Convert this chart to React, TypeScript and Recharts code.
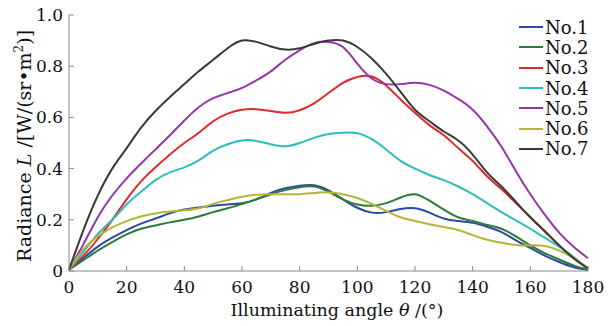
import React from 'react';
import { LineChart, Line, XAxis, YAxis, Legend } from 'recharts';

const angles = [0, 5, 10, 15, 20, 25, 30, 35, 40, 45, 50, 55, 60, 65, 70, 75, 80, 85, 90, 95, 100, 105, 110, 115, 120, 125, 130, 135, 140, 145, 150, 155, 160, 165, 170, 175, 180];

const no1 = [0.005, 0.05, 0.095, 0.13, 0.16, 0.185, 0.205, 0.225, 0.24, 0.248, 0.255, 0.26, 0.265, 0.28, 0.305, 0.323, 0.333, 0.335, 0.315, 0.28, 0.247, 0.228, 0.23, 0.242, 0.245, 0.228, 0.205, 0.195, 0.188, 0.173, 0.152, 0.12, 0.09, 0.06, 0.035, 0.015, 0.005];
const no2 = [0.005, 0.042, 0.08, 0.113, 0.143, 0.165, 0.178, 0.19, 0.2, 0.213, 0.23, 0.245, 0.262, 0.28, 0.3, 0.316, 0.327, 0.33, 0.31, 0.28, 0.26, 0.255, 0.265, 0.287, 0.3, 0.275, 0.24, 0.21, 0.195, 0.18, 0.165, 0.135, 0.1, 0.07, 0.045, 0.022, 0.005];
const no3 = [0.005, 0.06, 0.125, 0.2, 0.28, 0.35, 0.405, 0.455, 0.5, 0.54, 0.585, 0.615, 0.63, 0.632, 0.625, 0.618, 0.628, 0.655, 0.695, 0.735, 0.758, 0.76, 0.725, 0.67, 0.618, 0.57, 0.53, 0.48, 0.43, 0.37, 0.32, 0.265, 0.21, 0.155, 0.1, 0.05, 0.01];
const no4 = [0.005, 0.075, 0.145, 0.2, 0.26, 0.31, 0.355, 0.385, 0.405, 0.432, 0.47, 0.495, 0.51, 0.508, 0.495, 0.487, 0.5, 0.52, 0.535, 0.54, 0.538, 0.515, 0.475, 0.43, 0.4, 0.375, 0.355, 0.33, 0.3, 0.265, 0.23, 0.198, 0.165, 0.13, 0.095, 0.055, 0.01];
const no5 = [0.005, 0.105, 0.21, 0.295, 0.362, 0.42, 0.475, 0.53, 0.588, 0.64, 0.675, 0.695, 0.715, 0.745, 0.78, 0.825, 0.862, 0.89, 0.895, 0.875, 0.81, 0.752, 0.73, 0.73, 0.735, 0.727, 0.705, 0.672, 0.63, 0.565, 0.485, 0.39, 0.3, 0.22, 0.15, 0.095, 0.05];
const no6 = [0.005, 0.085, 0.135, 0.17, 0.195, 0.213, 0.225, 0.232, 0.237, 0.245, 0.262, 0.277, 0.29, 0.298, 0.3, 0.3, 0.3, 0.305, 0.307, 0.3, 0.285, 0.262, 0.235, 0.21, 0.195, 0.183, 0.172, 0.16, 0.14, 0.122, 0.11, 0.102, 0.1, 0.098, 0.08, 0.05, 0.01];
const no7 = [0.005, 0.16, 0.295, 0.4, 0.48, 0.56, 0.625, 0.68, 0.73, 0.78, 0.825, 0.87, 0.9, 0.895, 0.877, 0.865, 0.87, 0.887, 0.9, 0.9, 0.875, 0.83, 0.77, 0.7, 0.63, 0.585, 0.545, 0.51, 0.455, 0.385, 0.33, 0.27, 0.21, 0.155, 0.1, 0.05, 0.01];

const seriesNames = ['No.1', 'No.2', 'No.3', 'No.4', 'No.5', 'No.6', 'No.7'];
const seriesValues = [no1, no2, no3, no4, no5, no6, no7];
const seriesColors = ['#2b4ba3', '#2f7a35', '#dd2a2a', '#2ebdba', '#9436a8', '#b5b535', '#3a3a3a'];

const xTicks = [0, 20, 40, 60, 80, 100, 120, 140, 160, 180];
const yTicks = [0, 0.2, 0.4, 0.6, 0.8, 1.0];

const data = angles.map((a, i) => {
  const row: Record<string, number> = { angle: a };
  seriesNames.forEach((n, k) => {
    row[n] = seriesValues[k][i];
  });
  return row;
});

const FONT = '"DejaVu Serif", "Liberation Serif", serif';
const AXIS = '#8a8a8a';

const fmtY = (v: number) => (v === 0 ? '0' : v.toFixed(1));

const LegendContent = (props: any) => {
  const payload = props.payload || [];
  return (
    <div style={{ fontFamily: FONT, fontSize: 18, color: '#111' }}>
      {payload.map((p: any) => (
        <div key={p.value} style={{ display: 'flex', alignItems: 'center', height: 20.3 }}>
          <svg width={24} height={4} style={{ marginRight: 2 }}>
            <line x1={0} y1={2} x2={24} y2={2} stroke={p.color} strokeWidth={2} />
          </svg>
          <span>{p.value}</span>
        </div>
      ))}
    </div>
  );
};

const XLabel = () => (
  <text x={337} y={316} textAnchor="middle" fontFamily={FONT} fontSize={17.5} fill="#111">
    Illuminating angle <tspan fontStyle="italic">θ</tspan> /(°)
  </text>
);

const YLabel = () => (
  <text transform="translate(31,146) rotate(-90)" textAnchor="middle" fontFamily={FONT} fontSize={19} fill="#111">
    Radiance <tspan fontStyle="italic">L</tspan> /[W/(sr•m<tspan dy={-8} fontSize={12}>2</tspan><tspan dy={8}>)]</tspan>
  </text>
);

export default function App() {
  return (
    <div style={{ position: 'absolute', left: 0, top: 0, width: 614, height: 326, background: '#fff' }}>
      <LineChart width={614} height={326} data={data} margin={{ top: 15, right: 26, bottom: 25, left: 0 }}>
        <XAxis
          xAxisId="b"
          dataKey="angle"
          type="number"
          domain={[0, 180]}
          ticks={xTicks}
          height={30}
          stroke={AXIS}
          tickSize={-5}
          tickMargin={15}
          tick={{ fill: '#111', fontFamily: FONT, fontSize: 17 }}
          label={<XLabel />}
        />
        <XAxis
          xAxisId="t"
          orientation="top"
          dataKey="angle"
          type="number"
          domain={[0, 180]}
          ticks={xTicks}
          height={0}
          stroke={AXIS}
          tickSize={-5}
          tickFormatter={() => ''}
        />
        <YAxis
          yAxisId="l"
          type="number"
          domain={[0, 1]}
          ticks={yTicks}
          width={69}
          stroke={AXIS}
          tickSize={-5}
          tickMargin={11}
          tickFormatter={fmtY}
          tick={{ fill: '#111', fontFamily: FONT, fontSize: 17 }}
          label={<YLabel />}
        />
        <YAxis
          yAxisId="r"
          orientation="right"
          type="number"
          domain={[0, 1]}
          ticks={yTicks}
          width={0}
          stroke={AXIS}
          tickSize={0}
          tickFormatter={() => ''}
        />
        {seriesNames.map((n, k) => (
          <Line
            key={n}
            xAxisId="b"
            yAxisId="l"
            dataKey={n}
            name={n}
            type="natural"
            stroke={seriesColors[k]}
            strokeWidth={2}
            dot={false}
            isAnimationActive={false}
          />
        ))}
        <Legend
          layout="vertical"
          align="center"
          verticalAlign="middle"
          content={<LegendContent />}
          wrapperStyle={{ top: 17, left: 519, width: 70, height: 145 }}
        />
      </LineChart>
    </div>
  );
}
